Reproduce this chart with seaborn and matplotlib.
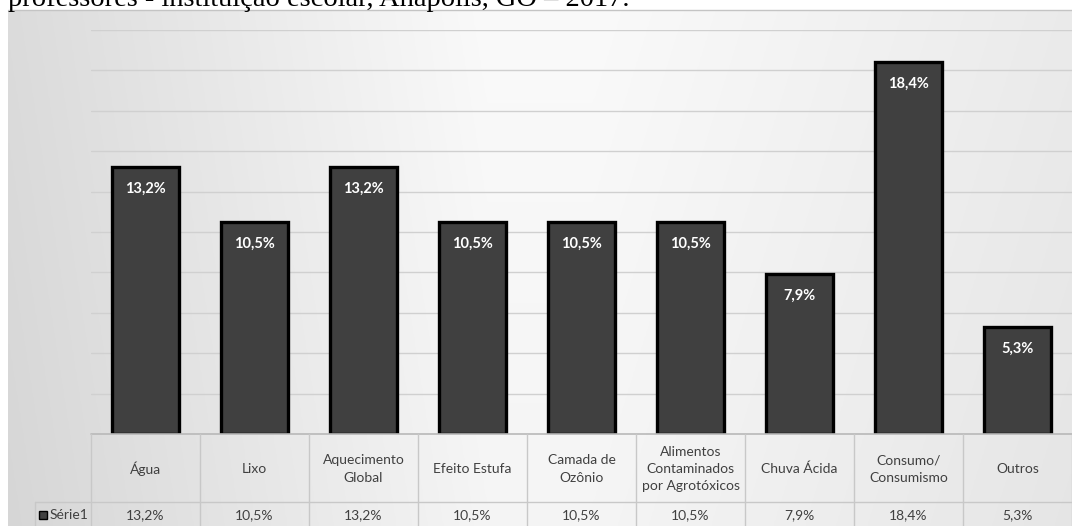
import numpy as np
import matplotlib
matplotlib.use("Agg")
import matplotlib.pyplot as plt
import seaborn as sns
import pandas as pd

categories = ["Água", "Lixo", "Aquecimento\nGlobal", "Efeito Estufa", "Camada de\nOzônio",
              "Alimentos\nContaminados\npor Agrotóxicos", "Chuva Ácida", "Consumo/\nConsumismo", "Outros"]
values = [13.2, 10.5, 13.2, 10.5, 10.5, 10.5, 7.9, 18.4, 5.3]
series_name = "Série1"
caption = "professores - instituição escolar, Anápolis, GO – 2017."

sns.set_theme(style="white")
plt.rcParams['font.family'] = ['Lato', 'DejaVu Sans']

W, H = 1072, 526
fig = plt.figure(figsize=(W / 100, H / 100), dpi=100)
fig.patch.set_facecolor("white")

def fx(px):
    return px / W

def fy(py):
    return 1 - py / H

# background gradient panel
bg = fig.add_axes([fx(8), 0, 1 - fx(8), fy(10)])
xs = np.linspace(0, 1, 400)
ys = np.linspace(0, 1, 100)
X, Y = np.meshgrid(xs, ys)
lum = 0.84 + 0.12 * np.clip(X / 0.45, 0, 1) - 0.06 * np.clip((X - 0.55) / 0.45, 0, 1) + 0.02 * Y
img = np.dstack([lum, lum, lum])
bg.imshow(img, aspect="auto", extent=[0, 1, 0, 1], origin="lower")
bg.set_axis_off()
fig.add_artist(plt.Line2D([fx(8), 1], [fy(10), fy(10)], color="#c4c4c4", lw=1))

# caption partially cut at top
fig.text(fx(8), fy(5.5), caption, family="Liberation Serif", fontsize=20.5, color="black",
         ha="left", va="baseline")

# main plot
ax = fig.add_axes([fx(91), fy(434), 1 - fx(91), fy(30) - fy(434)])
ax.patch.set_alpha(0)
df = pd.DataFrame({"cat": categories, "val": values})
sns.barplot(data=df, x="cat", y="val", color="#404040", saturation=1, width=0.62,
            edgecolor="black", linewidth=2.4, ax=ax, zorder=3)
ax.set_xlim(-0.5, len(categories) - 0.5)
ax.set_ylim(0, 20)
ax.set_yticks(np.arange(2, 21, 2))
ax.yaxis.grid(True, color="#d0d0d0", lw=1)
ax.set_axisbelow(True)
ax.tick_params(left=False, bottom=False, labelleft=False, labelbottom=False)
for s in ax.spines.values():
    s.set_visible(False)
ax.set_xlabel("")
ax.set_ylabel("")
for i, v in enumerate(values):
    ax.annotate(f"{v:.1f}%".replace(".", ","), (i, v), xytext=(0, -15.5), textcoords="offset points",
                ha="center", va="center", color="white", fontweight="bold", fontsize=10.5, zorder=5)

# data table
tab = fig.add_axes([fx(91), 0, 1 - fx(91), fy(434)])
tab.patch.set_alpha(0)
tab.set_xlim(-0.5, len(categories) - 0.5)
tab.set_ylim(0, 92)
tab.set_axis_off()
lc = "#c8c8c8"
colw = (W - 91) / len(categories)
def px2x(px):
    return -0.5 + (px - 91) / colw
left_label = px2x(35)
tab.plot([-0.5, len(categories) - 0.5], [92, 92], color="#b8b8b8", lw=1.2, clip_on=False)
tab.plot([left_label, len(categories) - 0.5], [24, 24], color=lc, lw=1, clip_on=False)
tab.plot([left_label, left_label], [0, 24], color=lc, lw=1, clip_on=False)
for k in range(len(categories) + 1):
    tab.plot([k - 0.5, k - 0.5], [0, 92], color=lc, lw=1, clip_on=False)
for i, (c, v) in enumerate(zip(categories, values)):
    tab.text(i, 57, c, ha="center", va="center", fontsize=10, color="#404040", linespacing=1.55)
    tab.text(i, 11, f"{v:.1f}%".replace(".", ","), ha="center", va="center", fontsize=10, color="#404040")
tab.text(px2x(50), 11, series_name, ha="left", va="center", fontsize=10, color="#404040", clip_on=False)
tab.add_patch(plt.Rectangle((px2x(39), 7.5), 8 / colw, 8, facecolor="#404040",
                            edgecolor="black", lw=1, clip_on=False))

fig.savefig("out.png", dpi=100)
